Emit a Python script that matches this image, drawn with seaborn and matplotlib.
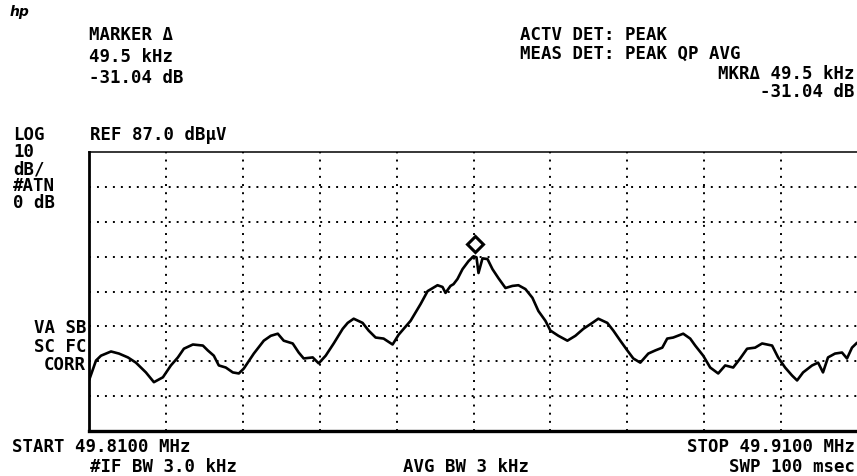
import matplotlib
matplotlib.use('Agg')
import matplotlib.pyplot as plt
import seaborn as sns
import numpy as np
import pandas as pd

# sweep settings
start_mhz = 49.81
stop_mhz = 49.91
ref_level = 87.0
db_per_div = 10

# trace, offset from START in kHz and level in dBuV
trace_khz = [0.0, 0.91, 1.56, 2.86, 3.90, 5.06, 6.10, 7.40, 8.44, 9.61,
             10.65, 11.56, 12.34, 13.51, 14.81, 15.45, 16.23, 16.88, 17.79, 18.70,
             19.48, 20.13, 21.43, 22.73, 23.64, 24.55, 25.32, 26.49, 27.27, 27.92,
             29.09, 29.87, 30.78, 31.82, 32.99, 33.64, 34.42, 35.58, 36.36, 37.27,
             38.31, 39.48, 40.26, 41.82, 43.12, 44.03, 45.32, 45.97, 46.36, 47.01,
             47.40, 47.92, 48.57, 49.35, 50.00, 50.39, 50.65, 51.17, 51.82, 52.47,
             53.25, 54.16, 55.06, 55.84, 56.75, 57.66, 58.44, 59.35, 60.00, 61.04,
             62.21, 63.25, 64.29, 65.45, 66.23, 67.40, 68.18, 69.09, 70.00, 70.78,
             71.69, 72.73, 73.64, 74.55, 75.19, 75.97, 77.27, 78.18, 78.83, 79.87,
             80.78, 81.82, 82.73, 83.77, 84.68, 85.58, 86.62, 87.53, 88.83, 89.61,
             90.52, 91.43, 92.08, 92.86, 94.03, 94.81, 95.45, 96.10, 97.01, 97.92,
             98.57, 99.22, 99.87]
trace_dbuv = [21.5, 27.2, 28.6, 29.8, 29.2, 28.1, 26.6, 23.8, 21.0, 22.4,
              25.8, 28.1, 30.6, 31.8, 31.5, 30.1, 28.6, 25.8, 25.2, 23.8,
              23.5, 24.9, 29.2, 32.9, 34.3, 34.9, 32.9, 32.1, 29.5, 27.8,
              28.1, 26.4, 28.6, 32.1, 36.3, 38.0, 39.2, 38.0, 35.8, 33.8,
              33.5, 31.8, 34.6, 38.6, 43.4, 47.1, 48.8, 48.3, 46.6, 48.6,
              49.1, 50.6, 53.4, 55.7, 57.1, 56.8, 52.3, 56.5, 56.3, 53.4,
              50.8, 48.0, 48.6, 48.8, 47.7, 45.2, 41.4, 38.6, 35.8, 34.3,
              32.9, 34.3, 36.3, 38.0, 39.2, 38.0, 35.8, 32.9, 30.1, 27.8,
              26.6, 29.2, 30.1, 30.9, 33.5, 33.8, 34.9, 33.5, 31.5, 28.6,
              25.2, 23.5, 25.8, 25.2, 27.8, 30.6, 30.9, 32.1, 31.5, 28.1,
              25.2, 22.9, 21.5, 23.8, 25.8, 26.6, 23.8, 28.1, 29.2, 29.5,
              27.8, 30.9, 32.3]

# delta marker diamond
marker_khz = 50.26
marker_dbuv = 60.5

df = pd.DataFrame({'freq': start_mhz + np.array(trace_khz) / 1000.0,
                   'level': trace_dbuv})

sns.set_style('white')
plt.rcParams['font.family'] = ['DejaVu Sans Mono', 'DejaVu Sans']
plt.rcParams['font.weight'] = 'bold'

W, H = 857, 476
fig = plt.figure(figsize=(W / 100, H / 100), dpi=100)
ax = fig.add_axes([89 / W, 1 - 431 / H, (858 - 89) / W, (431 - 152) / H])

sns.lineplot(data=df, x='freq', y='level', ax=ax, color='black',
             lw=1.9, estimator=None, sort=False)
ax.plot(start_mhz + marker_khz / 1000.0, marker_dbuv, marker='D', ms=8.5,
        mfc='white', mec='black', mew=2.2, ls='none')

bottom = ref_level - 8 * db_per_div
ax.set_xlim(start_mhz, stop_mhz)
ax.set_ylim(bottom, ref_level)
# dotted graticule
for i in range(1, 10):
    ax.axvline(start_mhz + i * (stop_mhz - start_mhz) / 10, color='black',
               lw=1.4, ls=(0, (1, 3.2)), zorder=0)
for j in range(1, 8):
    ax.axhline(bottom + j * db_per_div, color='black', lw=1.4,
               ls=(0, (1, 3.1)), zorder=0)
ax.set_xticks([])
ax.set_yticks([])
ax.set_xlabel('')
ax.set_ylabel('')
ax.spines['left'].set_linewidth(2.0)
ax.spines['bottom'].set_linewidth(2.4)
ax.spines['top'].set_linewidth(1.1)
ax.spines['right'].set_visible(False)
for s in ax.spines.values():
    s.set_color('black')


def put(x, y, s, ha='left', size=12.5, **kw):
    # x, y in screen pixels, y is the text baseline
    fig.text(x / W, 1 - y / H, s, ha=ha, va='baseline', fontsize=size,
             fontweight='bold', color='black', **kw)


put(10, 16, 'hp', size=10, style='italic', family='DejaVu Sans')

put(89, 40, 'MARKER Δ')
put(89, 62, '49.5 kHz')
put(89, 83, '-31.04 dB')

put(520, 40, 'ACTV DET: PEAK')
put(520, 59, 'MEAS DET: PEAK QP AVG')
put(855, 79, 'MKRΔ 49.5 kHz', ha='right')
put(855, 97, '-31.04 dB', ha='right')

put(13, 140, 'LOG')
put(90, 140, 'REF 87.0 dBµV')
put(13, 157, '10')
put(13, 174, 'dB/')
put(13, 191, '#ATN')
put(13, 208, '0 dB')

put(86, 333, 'VA SB', ha='right')
put(86, 352, 'SC FC', ha='right')
put(86, 370, 'CORR', ha='right')

put(12, 452, 'START 49.8100 MHz')
put(90, 472, '#IF BW 3.0 kHz')
put(466, 472, 'AVG BW 3 kHz', ha='center')
put(855, 452, 'STOP 49.9100 MHz', ha='right')
put(855, 472, 'SWP 100 msec', ha='right')

fig.savefig('out.png', dpi=100)
